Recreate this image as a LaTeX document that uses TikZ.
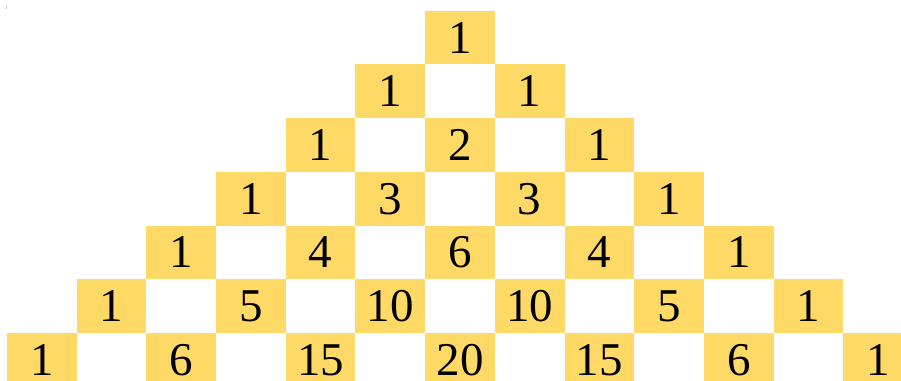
\documentclass[tikz,border=0pt]{standalone}
\usepackage{fontspec}
\setmainfont{Liberation Serif}
\definecolor{cellgold}{RGB}{255,217,102}
\tikzset{
  cell/.style={rectangle, fill=cellgold, inner sep=0pt,
    minimum width=69.7pt, minimum height=53.7pt,
    font=\fontsize{47}{47}\selectfont},
}
\begin{document}
\begin{tikzpicture}[x=1pt, y=1pt]
  % page frame, the bottom row runs off the edges
  \useasboundingbox (0,0) rectangle (901,380);
  \clip (0,0) rectangle (901,380);
  \node[gray, font=\fontsize{5}{5}\selectfont] (mark) at (6.5,372.5) {J};
  % one row per line, centred on x = 460
  \foreach \line [count=\r from 0] in
      {{1},{1,1},{1,2,1},{1,3,3,1},{1,4,6,4,1},{1,5,10,10,5,1},{1,6,15,20,15,6,1}}
    \foreach \v [count=\k from 0] in \line
      \node[cell] (c-\r-\k) at ({460+69.7*(2*\k-\r)}, {342.4-53.7*\r}) {\v};
\end{tikzpicture}
\end{document}
